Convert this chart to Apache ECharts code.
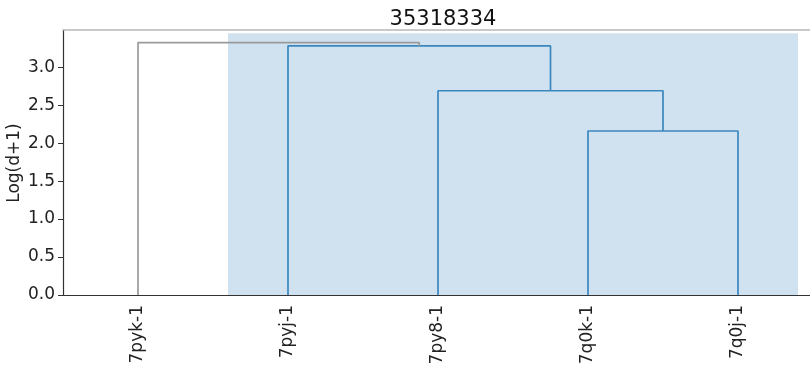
<!DOCTYPE html>
<html><head><meta charset="utf-8">
<script src="https://cdn.jsdelivr.net/npm/echarts@6/dist/echarts.min.js"></script>
<style>html,body{margin:0;padding:0;background:#fff}#c{width:810px;height:366px}</style>
</head><body><div id="c"></div>
<script>
var title = '35318334';
var yName = 'Log(d+1)';
var leaves = ['7pyk-1', '7pyj-1', '7py8-1', '7q0k-1', '7q0j-1'];
// merges: children (leaf index or 'm'+merge index), height
var mergeA = [3, 2, 1, 0];
var mergeB = [4, 'm0', 'm1', 'm2'];
var mergeHeights = [2.16, 2.69, 3.28, 3.325];
var mergeColors = ['#3a87c0', '#3a87c0', '#3a87c0', '#9a9a9a'];
var spanX = [11, 49];
var spanTop = 3.447;
var yTicks = [0, 0.5, 1.0, 1.5, 2.0, 2.5, 3.0];
var xTicks = [5, 15, 25, 35, 45];

function pos(c) {
  if (typeof c === 'number') return [5 + 10 * c, 0];
  var i = parseInt(c.slice(1));
  return [mpos[i], mergeHeights[i]];
}
var mpos = [];
var series = [];
for (var i = 0; i < mergeHeights.length; i++) {
  var a = pos(mergeA[i]), b = pos(mergeB[i]), h = mergeHeights[i];
  mpos[i] = (a[0] + b[0]) / 2;
  series.push({
    type: 'line', symbol: 'none', silent: true, z: 3,
    lineStyle: { color: mergeColors[i], width: 1.7 },
    data: [[a[0], a[1]], [a[0], h], [b[0], h], [b[0], b[1]]]
  });
}
series.push({
  type: 'line', data: [], symbol: 'none', z: 1,
  markArea: { silent: true, itemStyle: { color: '#d0e2ef' },
    data: [[{ coord: [spanX[0], 0] }, { coord: [spanX[1], spanTop] }]] }
});

var chart = echarts.init(document.getElementById('c'));
chart.setOption({
  animation: false,
  title: { text: title, left: 438, textAlign: 'center', top: 4,
    textStyle: { fontFamily: 'DejaVu Sans', fontSize: 21, fontWeight: 'normal', color: '#111' } },
  graphic: [{
    type: 'text', x: 15, y: 163, rotation: Math.PI / 2, silent: true,
    style: { text: yName, align: 'center', verticalAlign: 'middle',
      fontFamily: 'DejaVu Sans', fontSize: 17, fill: '#222' }
  }],
  grid: { left: 63, right: -3, top: 30, bottom: 71, containLabel: false, outerBoundsMode: 'none' },
  xAxis: [{
    type: 'value', min: 0, max: 50, position: 'bottom',
    axisLine: { lineStyle: { color: '#333', width: 1.2 } },
    axisTick: { show: false },
    splitLine: { show: false },
    axisLabel: { customValues: xTicks, rotate: 90, margin: 10, fontFamily: 'DejaVu Sans', fontSize: 17, color: '#222',
      formatter: function (v) { return leaves[Math.round((v - 5) / 10)]; } }
  }, {
    type: 'value', min: 0, max: 50, position: 'top',
    axisLine: { show: true, lineStyle: { color: '#b8b8b8', width: 1.5 } },
    axisTick: { show: false }, axisLabel: { show: false }, splitLine: { show: false }
  }],
  yAxis: {
    type: 'value', min: 0, max: 3.49,
    axisLine: { show: true, lineStyle: { color: '#333', width: 1.2 } },
    axisTick: { show: true, customValues: yTicks, length: 5, lineStyle: { color: '#333' } },
    splitLine: { show: false },
    axisLabel: { customValues: yTicks, margin: 8, fontFamily: 'DejaVu Sans', fontSize: 17, color: '#222',
      formatter: function (v) { return v.toFixed(1); } }
  },
  series: series
});
</script></body></html>
